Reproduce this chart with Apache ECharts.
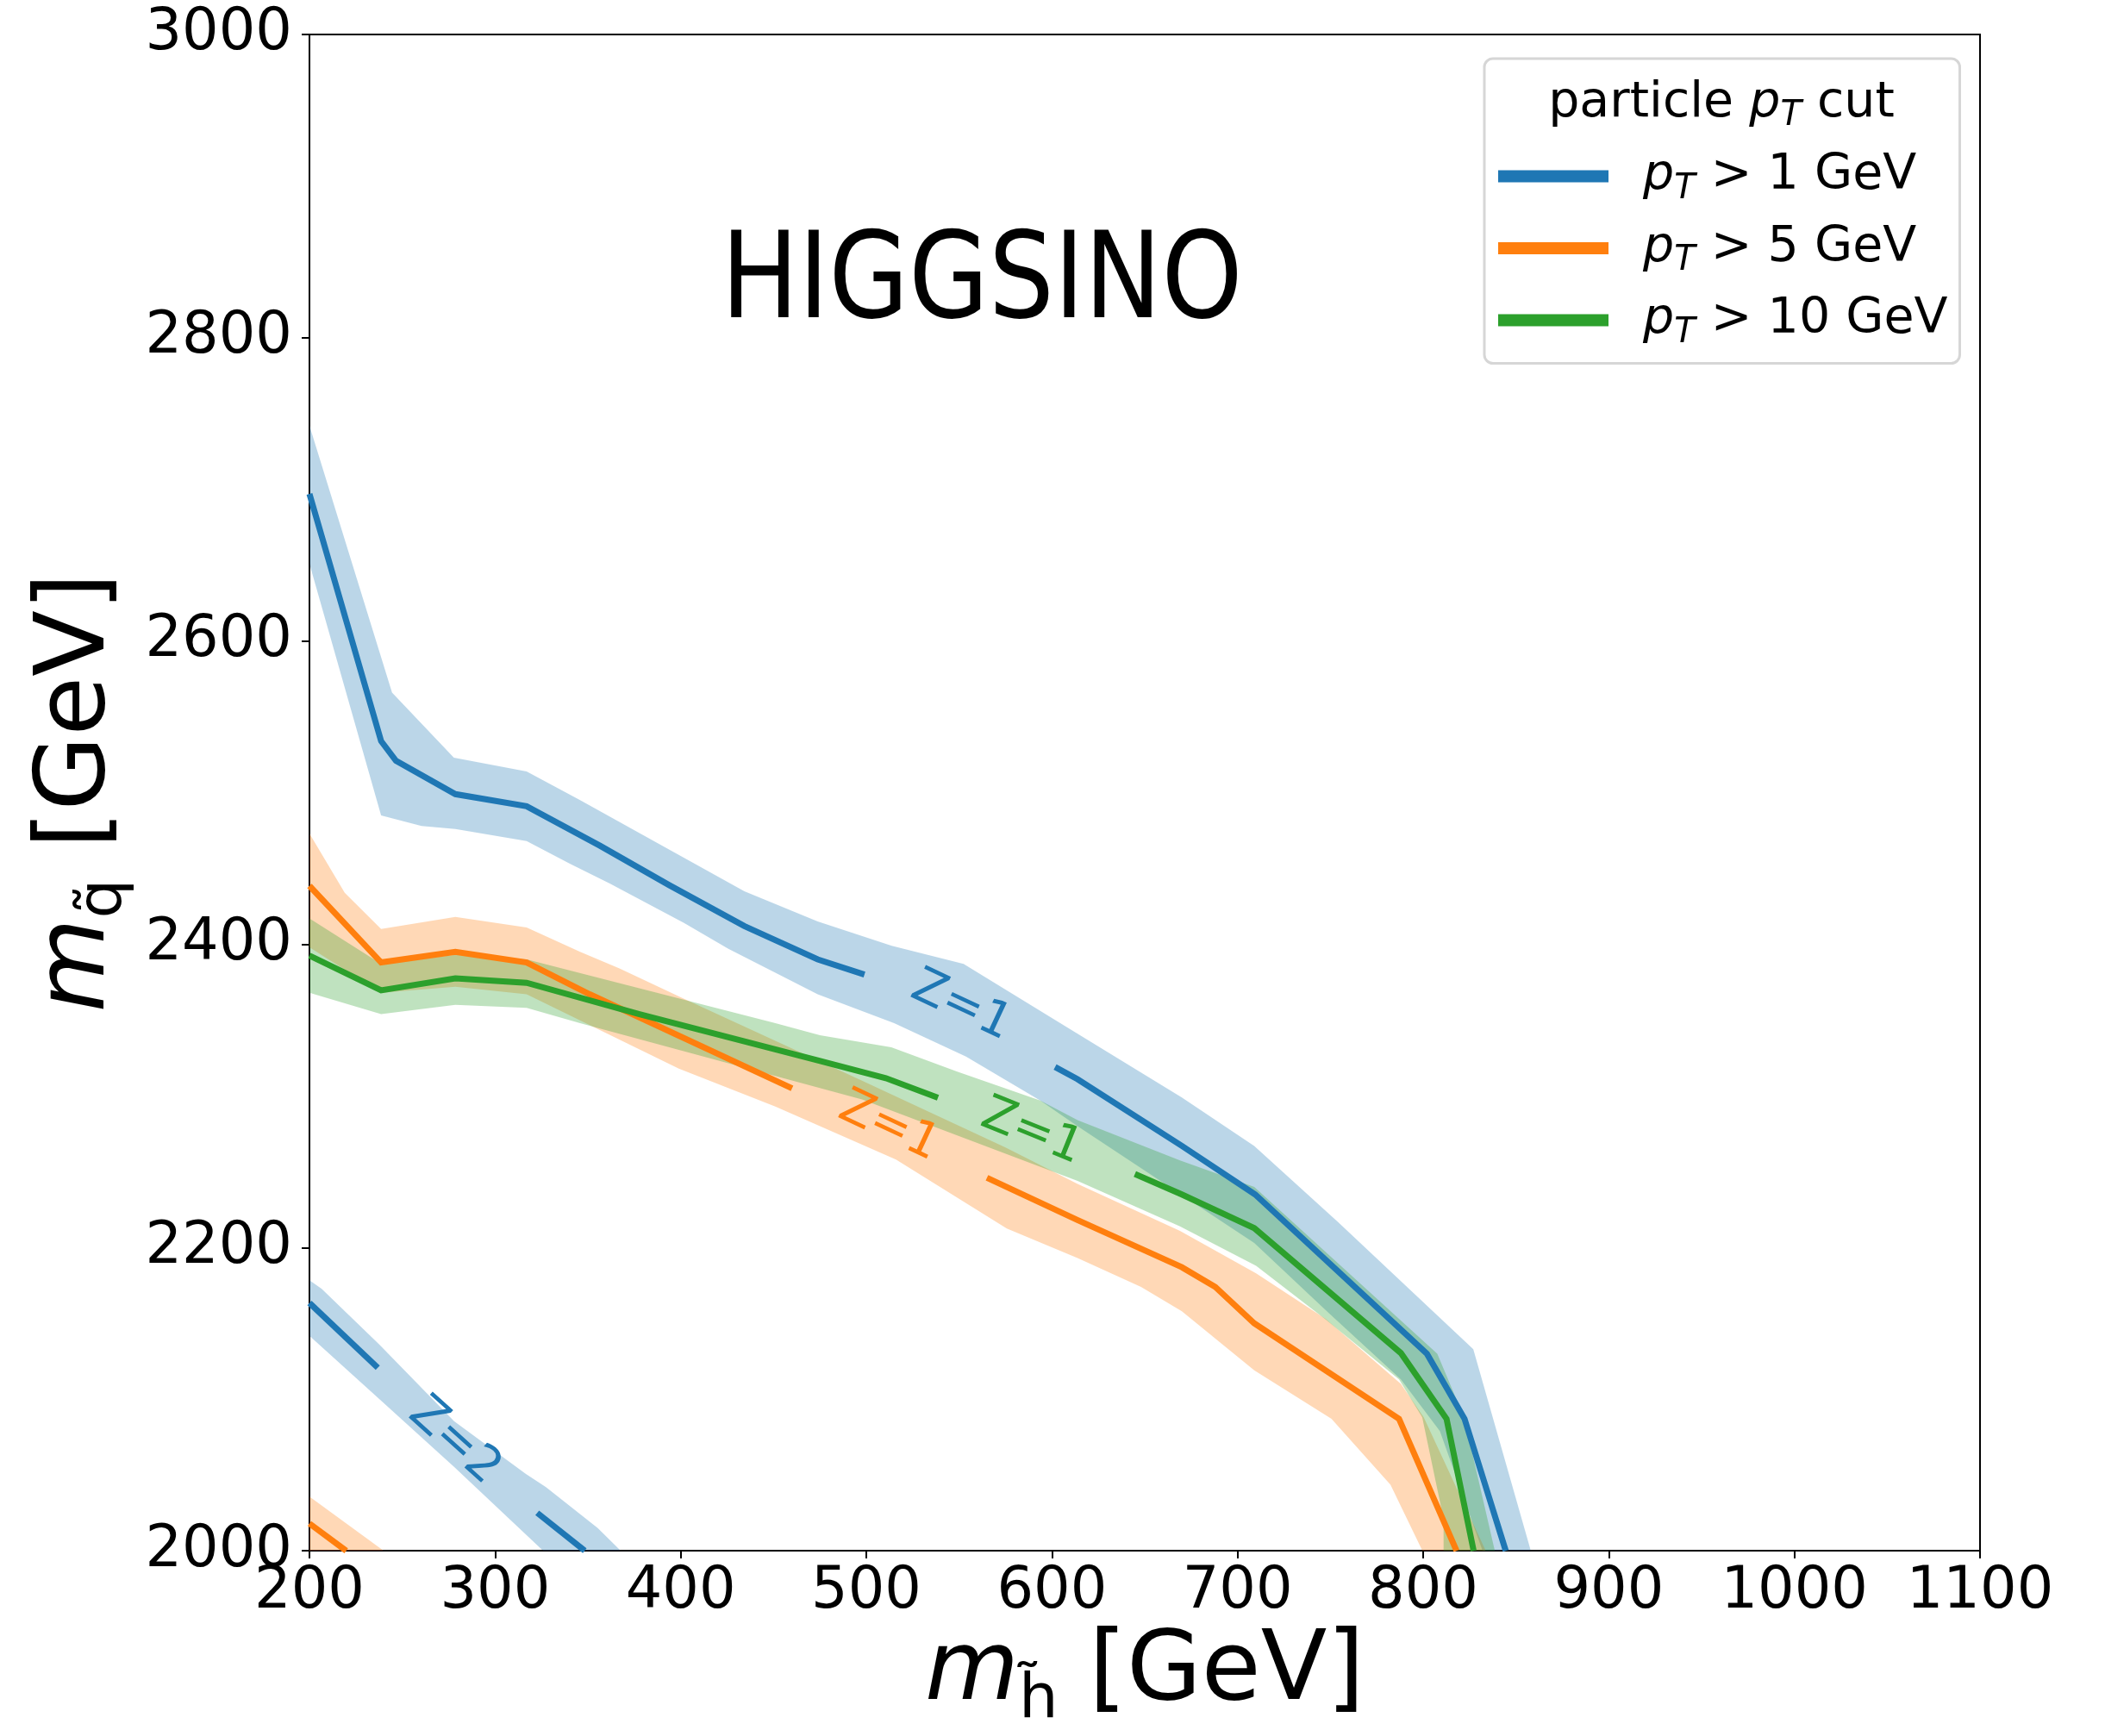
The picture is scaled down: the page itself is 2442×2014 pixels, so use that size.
<!DOCTYPE html>
<html>
<head>
<meta charset="utf-8">
<script src="https://cdn.jsdelivr.net/npm/echarts@6.0.0/dist/echarts.min.js"></script>
<style>
  html, body { margin: 0; padding: 0; background: #fff; }
  #chart { width: 2442px; height: 2014px; }
</style>
</head>
<body>
<div id="chart"></div>
<script>
// tick values
const xTicks = [200, 300, 400, 500, 600, 700, 800, 900, 1000, 1100];
const yTicks = [2000, 2200, 2400, 2600, 2800, 3000];

// particle pT cuts (GeV)
const cuts = [1, 5, 10];

// pT > 1 GeV, Z=1 contour (two pieces, gap for the label) and its band
const blueLineA = [[200, 2697], [238.6, 2534], [246.6, 2521], [278.6, 2499], [317, 2491], [356.5, 2465], [393.8, 2439], [434.3, 2412], [473.8, 2390], [499, 2380]];
const blueLineB = [[601.7, 2319], [613.8, 2311], [670, 2267], [709.5, 2235], [802, 2130], [822.3, 2087], [844.5, 2000]];
const blueUpper = [[200, 2742], [244.5, 2566], [277.8, 2523], [317, 2514], [345.8, 2495], [387, 2467], [434.3, 2435], [473.8, 2415], [513.7, 2399], [552.4, 2387], [613.8, 2341], [670, 2299], [709, 2267], [754, 2217], [827, 2133], [858, 2000]];
const blueLower = [[200, 2651], [238.6, 2485], [260.4, 2478], [278.6, 2476], [317, 2468], [340.5, 2453], [361.8, 2440], [401.8, 2414], [425.7, 2397], [473.8, 2367], [515, 2348], [553.7, 2326], [593.7, 2297], [613.8, 2280], [709, 2203], [749, 2157], [788, 2113], [809, 2079], [832, 2000]];

// pT > 1 GeV, Z=2 contour and band
const blueZ2LineA = [[200, 2163.4], [236.8, 2120.7]];
const blueZ2LineB = [[322.7, 2025], [348.3, 2000]];
const blueZ2Upper = [[200, 2178.4], [206.6, 2172.8], [237.6, 2136], [277.9, 2085.5], [316.6, 2050.7], [327.4, 2042], [355.3, 2015], [367.7, 2000]];
const blueZ2Lower = [[200, 2141.8], [239, 2098.6], [277.9, 2055.4], [325.9, 2000]];

// pT > 5 GeV, Z=1 contour and band
const orangeLineA = [[200, 2438.5], [238.6, 2388], [278.6, 2395], [317, 2388], [351, 2367], [460, 2305]];
const orangeLineB = [[565, 2246], [614, 2218], [670, 2187], [688, 2174], [709, 2150], [787, 2087], [818, 2000]];
const orangeUpper = [[200, 2473], [219, 2434], [238.6, 2410], [278.6, 2418], [317, 2411], [345.8, 2395], [367, 2384], [401.8, 2364], [497.7, 2310], [575, 2266], [613.8, 2242], [669, 2211], [710, 2183], [747.4, 2153], [788, 2110], [800.3, 2088], [833.7, 2000]];
const orangeLower = [[200, 2398], [238.6, 2368], [278.6, 2372], [317, 2367], [399, 2318], [451, 2293], [516, 2258], [575.7, 2212.5], [613.8, 2193], [648, 2174], [670, 2158], [709, 2119], [750.6, 2087], [782.4, 2043.5], [799.6, 2000]];

// pT > 5 GeV, Z=2 contour (only the corner is inside the plot)
const orangeZ2Line = [[200, 2018], [219.8, 2000]];
const orangeZ2Upper = [[200, 2035.7], [240, 2000]];
const orangeZ2Lower = [[200, 2000]];

// pT > 10 GeV, Z=1 contour and band
const greenLineA = [[200, 2392.5], [238.6, 2369.6], [278.6, 2377.5], [317, 2374.6], [377.8, 2353.8], [473.8, 2323.5], [510.5, 2311.7], [538.6, 2298.8]];
const greenLineB = [[644.7, 2248.5], [670, 2235], [709, 2212.8], [788, 2130.4], [812.6, 2087], [827.2, 2000]];
const greenUpper = [[200, 2417], [238.6, 2387], [278.6, 2393], [317, 2390], [451, 2348], [475, 2340], [513.5, 2332], [549, 2316], [593.7, 2297], [613.8, 2284], [669, 2257.5], [709, 2240], [807.6, 2130], [822, 2088], [838.6, 2000]];
const greenLower = [[200, 2368], [238.6, 2354], [278.6, 2360], [317, 2358], [345.8, 2348], [497.7, 2297.6], [613.8, 2244], [669, 2214], [710, 2188], [747, 2153], [787, 2113], [799.5, 2088], [811, 2021], [811, 2000]];

// contour labels
const contourLabels = ['Z=1', 'Z=1', 'Z=1', 'Z=2'];
const contourLabelAt = [[551, 2359], [512, 2279.5], [589, 2276], [278, 2072]];

const FONT = 'DejaVu Sans';
const BLUE = '#1f77b4', ORANGE = '#ff7f0e', GREEN = '#2ca02c';
const seriesNames = cuts.map(c => 'pT > ' + c + ' GeV');
const labelColors = [BLUE, ORANGE, GREEN, BLUE];
const labelAngles = [25, 25, 22, 42];

function band(upper, lower, rgba) {
  const pts = upper.concat(lower.slice().reverse());
  return {
    type: 'custom',
    clip: true,
    silent: true,
    data: [[200, 2000]],
    z: 1,
    renderItem: function (params, api) {
      return {
        type: 'polygon',
        shape: { points: pts.map(p => api.coord(p)) },
        style: { fill: rgba }
      };
    }
  };
}

function line(name, data, color) {
  return {
    type: 'line',
    name: name,
    data: data,
    color: color,
    symbol: 'none',
    showSymbol: false,
    clip: true,
    z: 3,
    lineStyle: { width: 7, color: color, cap: 'butt', join: 'miter' }
  };
}

const series = [
  band(blueUpper, blueLower, 'rgba(31,119,180,0.3)'),
  band(blueZ2Upper, blueZ2Lower, 'rgba(31,119,180,0.3)'),
  band(orangeUpper, orangeLower, 'rgba(255,127,14,0.3)'),
  band(orangeZ2Upper, orangeZ2Lower, 'rgba(255,127,14,0.3)'),
  band(greenUpper, greenLower, 'rgba(44,160,44,0.3)'),
  line(seriesNames[0], blueLineA, BLUE),
  line(seriesNames[0], blueLineB, BLUE),
  line(seriesNames[0], blueZ2LineA, BLUE),
  line(seriesNames[0], blueZ2LineB, BLUE),
  line(seriesNames[1], orangeLineA, ORANGE),
  line(seriesNames[1], orangeLineB, ORANGE),
  line(seriesNames[1], orangeZ2Line, ORANGE),
  line(seriesNames[2], greenLineA, GREEN),
  line(seriesNames[2], greenLineB, GREEN),
  {
    type: 'custom',
    silent: true,
    z: 4,
    data: contourLabelAt,
    renderItem: function (params, api) {
      const i = params.dataIndex;
      const p = api.coord([api.value(0), api.value(1)]);
      return {
        type: 'text',
        x: p[0],
        y: p[1],
        rotation: -labelAngles[i] * Math.PI / 180,
        style: {
          text: contourLabels[i],
          fill: labelColors[i],
          fontSize: 56,
          fontFamily: FONT,
          align: 'center',
          verticalAlign: 'middle'
        }
      };
    }
  }
];

const nameRich = {
  m: { fontStyle: 'italic', fontSize: 112, lineHeight: 134, fontFamily: FONT, color: '#000' },
  s: { fontSize: 72, lineHeight: 72, verticalAlign: 'bottom', fontFamily: FONT, color: '#000' },
  u: { fontSize: 112, lineHeight: 134, fontFamily: FONT, color: '#000' }
};

const plain = v => String(v);

const chart = echarts.init(document.getElementById('chart'), null, { renderer: 'canvas' });
chart.setOption({
  animation: false,
  backgroundColor: '#fff',
  grid: {
    left: 359, top: 40, width: 1938, height: 1775,
    show: true, borderColor: '#000', borderWidth: 2, backgroundColor: 'transparent'
  },
  xAxis: {
    type: 'value',
    min: xTicks[0], max: xTicks[xTicks.length - 1], interval: 100,
    name: '{m|m}{s|h\u0303}{u|\u00a0[GeV]}',
    nameLocation: 'middle',
    nameGap: 72,
    nameTextStyle: { rich: nameRich },
    axisLine: { show: true, lineStyle: { color: '#000', width: 2 } },
    axisTick: { show: true, inside: false, length: 9, lineStyle: { color: '#000', width: 2 } },
    axisLabel: { color: '#000', fontSize: 67, fontFamily: FONT, margin: 15, formatter: plain },
    splitLine: { show: false }
  },
  yAxis: {
    type: 'value',
    min: yTicks[0], max: yTicks[yTicks.length - 1], interval: 200,
    name: '{m|m}{s|q\u0303}{u|\u00a0[GeV]}',
    nameLocation: 'middle',
    nameGap: 184,
    nameTextStyle: { rich: nameRich },
    axisLine: { show: true, lineStyle: { color: '#000', width: 2 } },
    axisTick: { show: true, inside: false, length: 9, lineStyle: { color: '#000', width: 2 } },
    axisLabel: { color: '#000', fontSize: 67, fontFamily: FONT, margin: 20, formatter: plain },
    splitLine: { show: false }
  },
  legend: {
    data: seriesNames,
    orient: 'vertical',
    left: 1722, top: 68,
    padding: [108, 14, 15, 16],
    itemGap: 20,
    itemWidth: 128, itemHeight: 14,
    icon: 'rect',
    selectedMode: false,
    backgroundColor: '#fff',
    borderColor: '#d6d6d6', borderWidth: 3, borderRadius: 10,
    formatter: function (name) {
      const c = cuts[seriesNames.indexOf(name)];
      return '{g|}{i|p}{s|T}{t| > ' + c + ' GeV}';
    },
    textStyle: {
      color: '#000', fontSize: 57, fontFamily: FONT,
      rich: {
        g: { width: 35, lineHeight: 70 },
        i: { fontStyle: 'italic', fontSize: 57, lineHeight: 70, fontFamily: FONT, color: '#000' },
        s: { fontStyle: 'italic', fontSize: 40, lineHeight: 46, verticalAlign: 'bottom', fontFamily: FONT, color: '#000' },
        t: { fontSize: 57, lineHeight: 70, fontFamily: FONT, color: '#000' }
      }
    }
  },
  graphic: [
    {
      type: 'text', x: 1139, y: 332, scaleX: 0.86, z: 100,
      style: { text: 'HIGGSINO', fontSize: 139, fontFamily: FONT, fill: '#000', align: 'center', verticalAlign: 'middle' }
    },
    {
      type: 'text', x: 1997, y: 120, z: 100,
      style: {
        text: 'particle {i|p}{s|T} cut',
        fontSize: 57, fontFamily: FONT, fill: '#000', align: 'center', verticalAlign: 'middle',
        rich: {
          i: { fontStyle: 'italic', fontSize: 57, lineHeight: 70, fontFamily: FONT },
          s: { fontStyle: 'italic', fontSize: 40, lineHeight: 46, verticalAlign: 'bottom', fontFamily: FONT }
        }
      }
    }
  ],
  series: series
});
</script>
</body>
</html>
